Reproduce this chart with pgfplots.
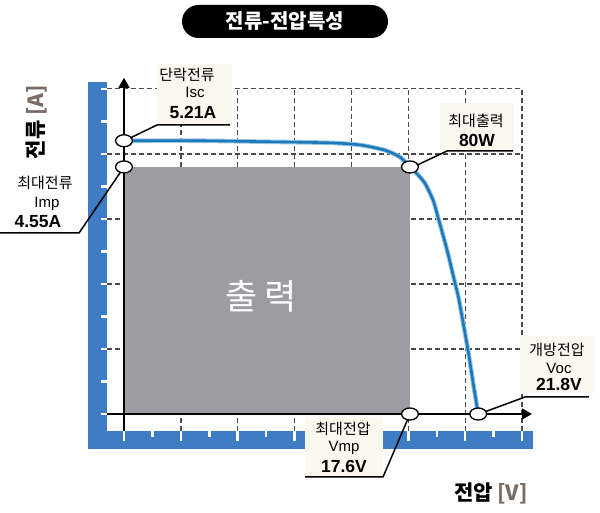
\documentclass[border=0pt]{standalone}
\usepackage{pgfplots}
\pgfplotsset{compat=1.18}
\usepackage{fontspec}
\setmainfont{Liberation Sans}
\newfontfamily\kr{Noto Sans CJK KR}
\usetikzlibrary{arrows.meta}
\definecolor{barblue}{HTML}{3E7CC4}
\definecolor{grayrect}{HTML}{9D9CA2}
\definecolor{gridc}{HTML}{4A4A4A}
\definecolor{curvec}{HTML}{1F78B8}
\definecolor{haloc}{HTML}{96C6E8}
\definecolor{beige}{HTML}{FBF8F0}
\definecolor{brk}{HTML}{7A6C64}
\begin{document}
\begin{tikzpicture}[x=1pt,y=1pt]
\path[use as bounding box] (0,0) rectangle (600,513);
\begin{axis}[
  at={(107pt,82pt)}, anchor=south west,
  scale only axis, width=415.4pt, height=342.7pt,
  xmin=-1.046, xmax=24.52, ymin=-0.324, ymax=6.21,
  axis line style={draw=none},
  xtick={3.5,7,10.5,14,17.5,21,24.5},
  ytick={1.24,2.48,3.72,4.96,6.2},
  xticklabels={}, yticklabels={},
  major tick length=0pt,
  grid=major,
  major grid style={gridc, line width=1.35pt, dash pattern=on 5pt off 3pt},
  clip=false,
]
% blue frame
\fill[barblue] (axis cs:-2.215,-0.667) rectangle (axis cs:-1.046,6.33);
\fill[barblue] (axis cs:-2.215,-0.667) rectangle (axis cs:25.17,-0.324);
\pgfplotsinvokeforeach{0,0.62,1.24,1.86,2.48,3.1,3.72,4.34,4.96,5.58,6.2}{
  \draw[white,line width=2.5pt] (axis cs:-1.415,#1) -- (axis cs:-1.046,#1);
}
\pgfplotsinvokeforeach{0,3.5,7,10.5,14,17.5,21,24.5}{
  \draw[white,line width=2.5pt] (axis cs:#1,-0.324) -- (axis cs:#1,-0.515);
}
\pgfplotsinvokeforeach{1.75,5.25,8.75,12.25,15.75,19.25,22.75}{
  \draw[white,line width=2.5pt] (axis cs:#1,-0.324) -- (axis cs:#1,-0.44);
}
% output rectangle
\addplot[fill=grayrect, draw=none] coordinates {(0,0) (17.6,0) (17.6,4.71) (0,4.71)} -- cycle;
% I-V curve
\addplot[haloc, line width=4.6pt, smooth, tension=0.4] coordinates {
(0,5.21) (4.68,5.21) (8.98,5.19) (12.68,5.17) (14.52,5.13) (16.06,5.03) (16.98,4.90)
(17.6,4.71) (18.09,4.56) (18.52,4.40) (19.02,4.08) (19.32,3.76) (19.88,3.13) (20.37,2.50)
(20.62,2.17) (21.17,1.22) (21.51,0.55) (21.8,0)};
\addplot[curvec, line width=2.6pt, smooth, tension=0.4] coordinates {
(0,5.21) (4.68,5.21) (8.98,5.19) (12.68,5.17) (14.52,5.13) (16.06,5.03) (16.98,4.90)
(17.6,4.71) (18.09,4.56) (18.52,4.40) (19.02,4.08) (19.32,3.76) (19.88,3.13) (20.37,2.50)
(20.62,2.17) (21.17,1.22) (21.51,0.55) (21.8,0)};
% axes
\addplot[black, line width=1.6pt, -{Triangle[width=11pt,length=10pt]}] coordinates {(0,-0.324) (0,6.41)};
\addplot[black, line width=1.6pt, -{Triangle[width=11pt,length=10pt]}] coordinates {(-1.046,0) (25.11,0)};
% key points
\addplot[only marks, mark=*, mark size=6pt, mark options={xscale=1.4, fill=white, draw=black, line width=1.3pt}]
  coordinates {(0,5.21) (0,4.71) (17.6,4.71) (17.6,0) (21.8,0)};
\end{axis}
% label backgrounds
\fill[beige] (157,389) rectangle (232,449);
\fill[beige] (440,363) rectangle (514,410);
\fill[beige] (520,120) rectangle (595,177);
\fill[beige] (305,37) rectangle (383,95);
% leader lines
\draw[black, line width=1.5pt, shorten <=7pt] (124,372) -- (157,388) -- (230,388);
\draw[black, line width=1.5pt, shorten <=6pt] (124,346) -- (79,280) -- (0,280);
\draw[black, line width=1.5pt, shorten <=7pt] (411,345) -- (447,362) -- (513,362);
\draw[black, line width=1.5pt, shorten <=7pt] (479,99) -- (525,116) -- (589,116);
\draw[black, line width=1.5pt, shorten <=6pt] (410,99) -- (383,36) -- (305,36);
% title
\node[fill=black, rounded corners=16.5pt, minimum width=206pt, minimum height=33pt, inner sep=0pt,
  text=white, font=\kr\bfseries\fontsize{20}{20}\selectfont] at (285,491.5) {전류-전압특성};
% axis titles
\node[rotate=90, font=\kr\bfseries\fontsize{21}{21}\selectfont] at (36,391) {전류 {\color{brk}[A]}};
\node[font=\kr\bfseries\fontsize{21}{21}\selectfont] at (491,20) {전압 {\color{brk}[V]}};
% output text
\node[text=white, font=\kr\fontsize{35}{35}\selectfont] at (261,217) {출\hspace{7pt}력};
% annotations
\node[anchor=base, font=\kr\fontsize{15}{15}\selectfont] at (187,432) {단락전류};
\node[anchor=base, font=\fontsize{15}{15}\selectfont] at (195,415) {Isc};
\node[anchor=base, font=\bfseries\fontsize{17.5}{17.5}\selectfont] at (193,394) {5.21A};
\node[anchor=base, font=\kr\fontsize{15}{15}\selectfont] at (45,324) {최대전류};
\node[anchor=base, font=\fontsize{15}{15}\selectfont] at (47,305) {Imp};
\node[anchor=base, font=\bfseries\fontsize{17.5}{17.5}\selectfont] at (38,285) {4.55A};
\node[anchor=base, font=\kr\fontsize{15}{15}\selectfont] at (476,386) {최대출력};
\node[anchor=base, font=\bfseries\fontsize{17.5}{17.5}\selectfont] at (477,366) {80W};
\node[anchor=base, font=\kr\fontsize{15}{15}\selectfont] at (557,157) {개방전압};
\node[anchor=base, font=\fontsize{15}{15}\selectfont] at (559,139) {Voc};
\node[anchor=base, font=\bfseries\fontsize{17.5}{17.5}\selectfont] at (559,122) {21.8V};
\node[anchor=base, font=\kr\fontsize{15}{15}\selectfont] at (343,78) {최대전압};
\node[anchor=base, font=\fontsize{15}{15}\selectfont] at (344,61) {Vmp};
\node[anchor=base, font=\bfseries\fontsize{17.5}{17.5}\selectfont] at (344,40) {17.6V};
\end{tikzpicture}
\end{document}
